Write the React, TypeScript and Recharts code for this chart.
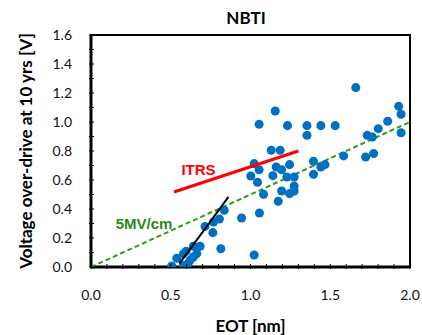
import React from "react"
import {
  ScatterChart,
  Scatter,
  XAxis,
  YAxis,
  ReferenceArea,
  ReferenceDot,
} from "recharts"

// measured EOT [nm] and overdrive voltage [V]
const eot = [
  1.66, 1.155, 1.054, 1.232, 1.354, 1.441, 1.531, 1.354, 1.13, 1.186,
  1.023, 1.054, 1.002, 1.044, 1.082, 1.056, 0.944, 1.023, 1.161, 1.195,
  1.14, 1.245, 1.228, 1.274, 1.274, 1.274, 1.195, 1.245, 1.174, 1.395,
  1.395, 1.441, 1.467, 1.584, 1.722, 1.772, 1.732, 1.764, 1.801, 1.86,
  1.929, 1.944, 1.944,
  0.835, 0.805, 0.768, 0.715, 0.764, 0.814, 0.684, 0.642, 0.663, 0.596,
  0.58, 0.538, 0.506, 0.58, 0.621, 0.642, 0.609,
]
const vod = [
  1.237, 1.076, 0.984, 0.975, 0.975, 0.975, 0.975, 0.908, 0.805, 0.805,
  0.713, 0.671, 0.628, 0.584, 0.501, 0.372, 0.338, 0.083, 0.69, 0.671,
  0.63, 0.706, 0.621, 0.621, 0.559, 0.524, 0.524, 0.506, 0.453, 0.729,
  0.639, 0.69, 0.706, 0.766, 0.759, 0.782, 0.908, 0.897, 0.954, 1.005,
  1.108, 1.053, 0.926,
  0.391, 0.331, 0.31, 0.28, 0.237, 0.126, 0.143, 0.143, 0.092, 0.108,
  0.092, 0.06, 0.007, 0.011, 0.046, 0.069, 0.023,
]

const itrsLine = [
  { x: 0.52, y: 0.517 },
  { x: 1.3, y: 0.8 },
]
const fitLine = [
  { x: 0.554, y: 0.023 },
  { x: 0.862, y: 0.483 },
]
// 5 MV/cm field -> 0.5 V per nm
const fieldLine = [
  { x: 0, y: 0 },
  { x: 2, y: 1.0 },
]

const xTicks = Array.from({ length: 21 }, (_, i) => i / 10)
const yTicks = Array.from({ length: 17 }, (_, i) => i / 10)

const points = eot.map((x, i) => ({ x, y: vod[i] }))

const FONT = "Lato, 'Open Sans', sans-serif"

const XTick = (props: any) => {
  const { x, y, payload } = props
  const v = Math.round(payload.value * 10)
  return (
    <g>
      <line x1={x} x2={x} y1={y} y2={y - 5} stroke="#000" strokeWidth={1} />
      {v % 5 === 0 && (
        <text x={x} y={y + 31} textAnchor="middle" fontSize={14} fill="#111" fontFamily={FONT}>
          {(v / 10).toFixed(1)}
        </text>
      )}
    </g>
  )
}

const YTick = (props: any) => {
  const { x, y, payload } = props
  const v = Math.round(payload.value * 10)
  return (
    <g>
      <line x1={x} x2={x + 5} y1={y} y2={y} stroke="#000" strokeWidth={1} />
      {v % 2 === 0 && (
        <text x={x - 17} y={y + 5} textAnchor="end" fontSize={14} fill="#111" fontFamily={FONT}>
          {(v / 10).toFixed(1)}
        </text>
      )}
    </g>
  )
}

const NoDot = () => <g />

export default function App() {
  return (
    <div style={{ position: "absolute", left: 0, top: 0, width: 422, height: 335, background: "#fff" }}>
      <ScatterChart width={422} height={335} margin={{ top: 35, right: 12, bottom: 0, left: 31 }}>
        <text x={246} y={24} textAnchor="middle" fontSize={17} fontWeight="bold" fontFamily={FONT} fill="#000">
          NBTI
        </text>
        <XAxis
          type="number"
          dataKey="x"
          domain={[0, 2]}
          ticks={xTicks}
          interval={0}
          tickSize={0}
          tickLine={false}
          tick={<XTick />}
          height={68}
          axisLine={{ stroke: "#000", strokeWidth: 3 }}
          allowDataOverflow
          label={{
            value: "EOT [nm]",
            position: "insideBottom",
            offset: 3,
            fontSize: 17,
            fontWeight: "bold",
            fill: "#000",
            fontFamily: FONT,
          }}
        />
        <YAxis
          type="number"
          dataKey="y"
          domain={[0, 1.6]}
          ticks={yTicks}
          interval={0}
          tickSize={0}
          tickLine={false}
          tick={<YTick />}
          width={60}
          axisLine={{ stroke: "#000", strokeWidth: 3 }}
          allowDataOverflow
          label={{
            value: "Voltage over-drive at 10 yrs [V]",
            angle: -90,
            position: "insideLeft",
            offset: -5,
            style: { textAnchor: "middle" },
            fontSize: 17,
            fontWeight: "bold",
            fill: "#000",
            fontFamily: FONT,
          }}
        />
        <ReferenceArea x1={0} x2={2} y1={0} y2={1.6} fill="none" stroke="#000" strokeWidth={2} ifOverflow="visible" />
        <Scatter
          data={fieldLine}
          line={{ stroke: "#2e9a1e", strokeWidth: 2, strokeDasharray: "5 3" }}
          shape={<NoDot />}
          isAnimationActive={false}
        />
        <Scatter data={points} fill="#0070C0" shape="circle" isAnimationActive={false} />
        <Scatter
          data={itrsLine}
          line={{ stroke: "#ff0000", strokeWidth: 3 }}
          shape={<NoDot />}
          isAnimationActive={false}
        />
        <Scatter
          data={fitLine}
          line={{ stroke: "#000", strokeWidth: 2 }}
          shape={<NoDot />}
          isAnimationActive={false}
        />
        <ReferenceDot
          x={0.674}
          y={0.671}
          r={0}
          ifOverflow="visible"
          label={{ value: "ITRS", fill: "#ff0000", fontSize: 15, fontWeight: "bold", fontFamily: "Arial, 'Liberation Sans', sans-serif", position: "center" }}
        />
        <ReferenceDot
          x={0.333}
          y={0.299}
          r={0}
          ifOverflow="visible"
          label={{ value: "5MV/cm", fill: "#2a8a1a", fontSize: 15, fontWeight: "bold", fontFamily: "Arial, 'Liberation Sans', sans-serif", position: "center" }}
        />
      </ScatterChart>
    </div>
  )
}
